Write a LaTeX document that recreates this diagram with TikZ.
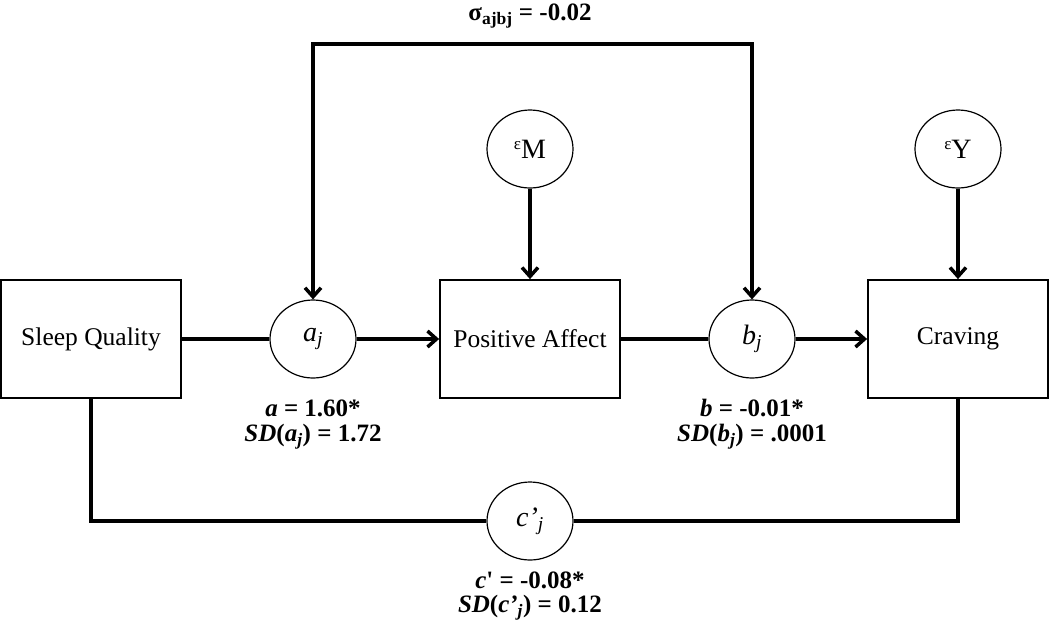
\documentclass[tikz,border=0pt]{standalone}
\usepackage{fontspec}
\setmainfont{Liberation Serif}
\usetikzlibrary{arrows.meta,shapes.geometric}
\newcommand{\mysub}[1]{\textsubscript{#1}}
\newcommand{\eps}{\raisebox{0.3em}{\fontsize{17}{17}\selectfont ε}}
\begin{document}
\begin{tikzpicture}[x=1pt,y=-1pt,
  box/.style={draw, line width=1.8pt, minimum width=180pt, minimum height=118pt, inner sep=0pt, font=\fontsize{25.5}{30}\selectfont},
  circ/.style={draw, line width=1.2pt, ellipse, minimum width=86pt, minimum height=78pt, inner sep=0pt, font=\fontsize{28}{30}\selectfont},
  conn/.style={line width=3.5pt},
  arr/.style={conn, -{Straight Barb[length=9pt,width=16pt,line width=3.5pt]}},
  stat/.style={font=\fontsize{25}{30}\selectfont\bfseries, inner sep=0pt}]
\useasboundingbox (0,0) rectangle (1050,633);
\fill[white] (0,0) rectangle (1050,633);
\node[box] (sq) at (91,339) {Sleep Quality};
\node[circ] (aj) at (313,339) {\textit{a}\mysub{\textit{j}}};
\node[box] (pa) at (530,339) {Positive Affect};
\node[circ] (bj) at (752,339) {\textit{b}\mysub{\textit{j}}};
\node[box] (cr) at (958,339) {Craving};
\node[circ] (em) at (530,149) {\eps M};
\node[circ] (ey) at (958,149) {\eps Y};
\node[circ] (cj) at (530,521) {\textit{c’}\mysub{\textit{j}}};
\coordinate (tl) at (313,44);
\coordinate (tr) at (752,44);
\coordinate (bl) at (91,521);
\coordinate (br) at (958,521);
% connectors
\draw[conn] (sq.east) -- (aj.west);
\draw[arr] (aj.east) -- (pa.west);
\draw[conn] (pa.east) -- (bj.west);
\draw[arr] (bj.east) -- (cr.west);
\draw[arr] (em.south) -- (pa.north);
\draw[arr] (ey.south) -- (cr.north);
\draw[arr] (tl) -- (aj.north);
\draw[arr] (tr) -- (bj.north);
\draw[conn, line cap=rect] (tl) -- (tr);
\draw[conn] (sq.south) -- (bl) -- (cj.west);
\draw[conn] (cr.south) -- (br) -- (cj.east);
% labels
\node[stat] (sig) at (530,16) {σ\mysub{ajbj} = -0.02};
\node[stat] (la1) at (313,408) {\textit{a} = 1.60*};
\node[stat] (la2) at (313,437) {\textit{SD}(\textit{a}\mysub{\textit{j}}) = 1.72};
\node[stat] (lb1) at (752,408) {\textit{b} = -0.01*};
\node[stat] (lb2) at (752,437) {\textit{SD}(\textit{b}\mysub{\textit{j}}) = .0001};
\node[stat] (lc1) at (530,580) {\textit{c}\textquotesingle{} = -0.08*};
\node[stat] (lc2) at (530,608) {\textit{SD}(\textit{c’}\mysub{\textit{j}}) = 0.12};
\end{tikzpicture}
\end{document}
